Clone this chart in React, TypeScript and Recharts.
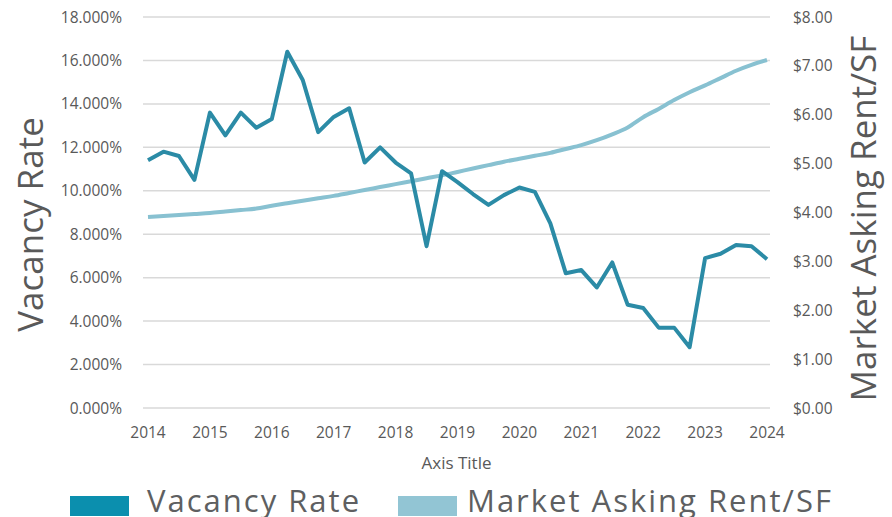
import { LineChart, Line, XAxis, YAxis, CartesianGrid } from "recharts";

// quarterly, 2014 Q1 .. 2024 Q1
const quarters = [
  "2014 Q1", "2014 Q2", "2014 Q3", "2014 Q4",
  "2015 Q1", "2015 Q2", "2015 Q3", "2015 Q4",
  "2016 Q1", "2016 Q2", "2016 Q3", "2016 Q4",
  "2017 Q1", "2017 Q2", "2017 Q3", "2017 Q4",
  "2018 Q1", "2018 Q2", "2018 Q3", "2018 Q4",
  "2019 Q1", "2019 Q2", "2019 Q3", "2019 Q4",
  "2020 Q1", "2020 Q2", "2020 Q3", "2020 Q4",
  "2021 Q1", "2021 Q2", "2021 Q3", "2021 Q4",
  "2022 Q1", "2022 Q2", "2022 Q3", "2022 Q4",
  "2023 Q1", "2023 Q2", "2023 Q3", "2023 Q4",
  "2024 Q1",
];

const vacancyRate = [
  11.4, 11.8, 11.6, 10.5, 13.6, 12.55, 13.6, 12.9, 13.3, 16.4,
  15.1, 12.7, 13.4, 13.8, 11.3, 12.0, 11.3, 10.8, 7.45, 10.9,
  10.4, 9.85, 9.35, 9.8, 10.15, 9.95, 8.5, 6.2, 6.35, 5.55,
  6.7, 4.75, 4.6, 3.7, 3.7, 2.8, 6.9, 7.1, 7.5, 7.45, 6.85,
];

const askingRent = [
  3.91, 3.93, 3.95, 3.97, 3.99, 4.02, 4.05, 4.08, 4.14, 4.19,
  4.24, 4.29, 4.34, 4.4, 4.46, 4.52, 4.58, 4.64, 4.7, 4.76,
  4.83, 4.9, 4.97, 5.04, 5.1, 5.16, 5.22, 5.3, 5.38, 5.48,
  5.6, 5.74, 5.95, 6.12, 6.3, 6.46, 6.6, 6.75, 6.9, 7.02, 7.12,
];

const vacancyTicks = [0, 2, 4, 6, 8, 10, 12, 14, 16, 18];
const rentTicks = [0, 1, 2, 3, 4, 5, 6, 7, 8];

const data = quarters.map((q, i) => ({
  quarter: q,
  vacancy: vacancyRate[i],
  rent: askingRent[i],
}));

const FONT = "'Open Sans', sans-serif";
const GREY = "#595959";
const VACANCY_COLOR = "#2b8ba6";
const RENT_COLOR = "#88c1d1";

const SideTitle = ({ viewBox, value, baselineX, dy }: any) => {
  const cy = viewBox.y + viewBox.height / 2 + dy;
  return (
    <text
      x={baselineX}
      y={cy}
      transform={`rotate(-90 ${baselineX} ${cy})`}
      textAnchor="middle"
      fontFamily={FONT}
      fontSize={35}
      fill={GREY}
    >
      {value}
    </text>
  );
};

export default function App() {
  return (
    <div style={{ position: "absolute", left: 0, top: 0, width: 892, height: 517, background: "#fff", overflow: "hidden" }}>
      <LineChart
        width={892}
        height={517}
        data={data}
        margin={{ top: 17, right: 0, bottom: 0, left: 0 }}
      >
        <CartesianGrid yAxisId="left" vertical={false} stroke="#d9d9d9" strokeWidth={1.5} />
        <XAxis
          dataKey="quarter"
          interval={3}
          height={109}
          padding={{ left: 5, right: 3 }}
          tickFormatter={(q: string) => q.slice(0, 4)}
          tick={{ fill: GREY, fontSize: 15.5, fontFamily: FONT }}
          tickLine={false}
          axisLine={false}
          tickMargin={13}
          label={{ value: "Axis Title", position: "insideBottom", offset: 48, fill: GREY, fontSize: 17, fontFamily: FONT }}
        />
        <YAxis
          yAxisId="left"
          width={143}
          domain={[0, 18]}
          ticks={vacancyTicks}
          tickFormatter={(v: number) => `${v.toFixed(3)}%`}
          tick={{ fill: GREY, fontSize: 15.5, fontFamily: FONT }}
          tickLine={false}
          axisLine={false}
          tickMargin={15}
          label={<SideTitle value="Vacancy Rate" baselineX={43} dy={12} />}
        />
        <YAxis
          yAxisId="right"
          orientation="right"
          width={122}
          domain={[0, 8]}
          ticks={rentTicks}
          tickFormatter={(v: number) => `$${v.toFixed(2)}`}
          tick={{ fill: GREY, fontSize: 15.5, fontFamily: FONT, textAnchor: "start" }}
          tickLine={false}
          axisLine={false}
          tickMargin={17}
          label={<SideTitle value="Market Asking Rent/SF" baselineX={876} dy={6} />}
        />
        <Line
          yAxisId="right"
          type="monotone"
          dataKey="rent"
          stroke={RENT_COLOR}
          strokeWidth={4}
          dot={false}
          isAnimationActive={false}
        />
        <Line
          yAxisId="left"
          type="linear"
          dataKey="vacancy"
          stroke={VACANCY_COLOR}
          strokeWidth={4}
          strokeLinejoin="round"
          dot={false}
          isAnimationActive={false}
        />
      </LineChart>
      {/* legend */}
      <svg width={892} height={517} style={{ position: "absolute", left: 0, top: 0, pointerEvents: "none" }}>
        <rect x={70} y={496} width={59} height={20} fill="#0b8fae" />
        <text x={147} y={512} fontFamily={FONT} fontSize={31} letterSpacing={2} fill="#5e5f61">Vacancy Rate</text>
        <rect x={398} y={496} width={59} height={20} fill="#92c5d4" />
        <text x={467} y={512} fontFamily={FONT} fontSize={31} letterSpacing={2} fill="#5e5f61">Market Asking Rent/SF</text>
      </svg>
    </div>
  );
}
